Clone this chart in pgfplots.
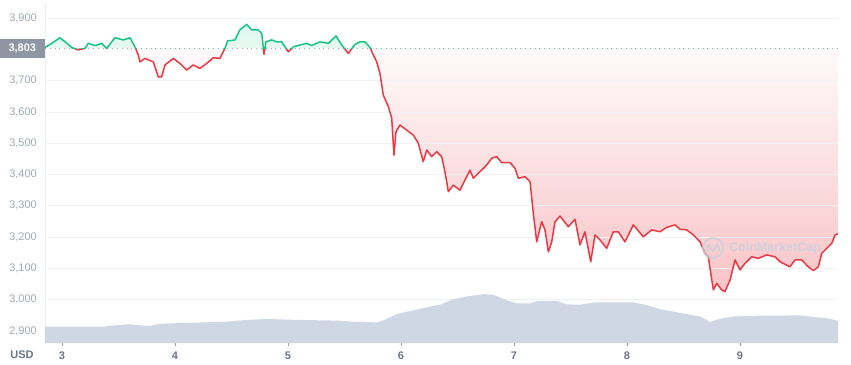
\documentclass[border=0pt]{standalone}
\usepackage{pgfplots}
\pgfplotsset{compat=1.18}
\usepackage{pgfplotstable}
\usepackage{fontspec}
\setmainfont{Liberation Sans}
\definecolor{cmcgreen}{HTML}{16C784}
\definecolor{cmcred}{HTML}{EA3943}
\definecolor{gridc}{HTML}{EFF2F5}
\definecolor{volc}{HTML}{CFD6E4}
\definecolor{ylabc}{HTML}{A1A8B8}
\definecolor{xlabc}{HTML}{6B7588}
\definecolor{boxc}{HTML}{8E96A3}
\definecolor{wmc}{HTML}{C9D1DF}

\pgfplotstableread{
d p
2.850 3806
2.909 3819
2.982 3837
3.027 3824
3.086 3806
3.144 3798
3.204 3803
3.233 3819
3.292 3812
3.351 3819
3.396 3803
3.469 3837
3.542 3830
3.602 3837
3.646 3808
3.675 3782
3.690 3760
3.735 3771
3.808 3760
3.852 3712
3.882 3712
3.912 3750
3.985 3771
4.044 3755
4.104 3734
4.162 3750
4.221 3739
4.281 3755
4.339 3773
4.398 3771
4.442 3803
4.466 3827
4.531 3830
4.575 3862
4.635 3880
4.679 3862
4.737 3862
4.768 3851
4.788 3784
4.805 3824
4.856 3830
4.900 3824
4.944 3824
5.003 3792
5.047 3808
5.106 3814
5.165 3819
5.210 3812
5.283 3824
5.357 3819
5.425 3843
5.475 3814
5.534 3787
5.593 3816
5.637 3824
5.681 3824
5.726 3806
5.755 3782
5.785 3760
5.814 3723
5.843 3654
5.888 3617
5.918 3580
5.938 3462
5.956 3537
5.991 3558
6.050 3542
6.109 3526
6.153 3500
6.197 3441
6.228 3478
6.272 3457
6.316 3473
6.360 3457
6.389 3409
6.419 3345
6.463 3366
6.522 3350
6.566 3382
6.611 3414
6.640 3388
6.699 3409
6.758 3430
6.803 3452
6.847 3457
6.891 3438
6.965 3438
7.009 3420
7.038 3388
7.097 3393
7.142 3377
7.171 3276
7.201 3185
7.245 3249
7.274 3223
7.304 3153
7.334 3185
7.363 3249
7.407 3267
7.481 3233
7.540 3257
7.584 3175
7.628 3217
7.679 3121
7.717 3207
7.761 3191
7.820 3164
7.879 3217
7.923 3217
7.982 3185
8.056 3239
8.144 3201
8.219 3223
8.292 3217
8.351 3231
8.425 3239
8.469 3225
8.528 3223
8.587 3207
8.646 3185
8.690 3148
8.719 3137
8.764 3031
8.794 3052
8.838 3031
8.867 3026
8.912 3063
8.956 3127
9.000 3095
9.044 3116
9.104 3137
9.162 3132
9.236 3143
9.310 3137
9.354 3121
9.442 3105
9.487 3127
9.546 3127
9.604 3105
9.649 3093
9.693 3105
9.723 3148
9.767 3164
9.812 3180
9.841 3207
9.867 3210
}\price

\pgfplotstableread{
d h
2.850 0
2.850 16.3
3.389 16.3
3.398 17
3.584 18.7
3.779 17
3.867 19.3
4.159 20.3
4.460 21.3
4.619 23
4.814 24
5.018 23.3
5.460 22.3
5.575 21.3
5.796 20.6
5.876 24.3
5.965 29
6.053 31.3
6.195 35
6.345 38.3
6.451 43.3
6.584 46.6
6.743 49
6.832 47.6
6.938 42.6
7.027 39.6
7.142 39.6
7.212 42
7.381 42
7.469 38.6
7.584 38.3
7.717 40.6
8.053 40.6
8.159 38.3
8.292 34
8.469 30
8.646 26.6
8.735 21
8.823 24.3
8.956 26.6
9.177 27.3
9.531 27.6
9.796 24.3
9.867 22
9.867 0
}\volume

\pgfplotsset{
  lowpart/.style={scale only axis, width=793pt, hide axis, clip=true,
    xmin=2.85, xmax=9.867, anchor=south west,
    at={(45pt,21pt)}, height=294.62pt, ymin=2861.6, ymax=3803},
  highpart/.style={scale only axis, width=793pt, hide axis, clip=true,
    xmin=2.85, xmax=9.867, anchor=south west,
    at={(45pt,315.62pt)}, height=45.38pt, ymin=3803, ymax=3948},
}

\begin{document}
\begin{tikzpicture}
\useasboundingbox (0,0) rectangle (851pt,364pt);
% area between the price and the 3,803 reference line
\begin{axis}[lowpart]
\addplot[draw=none, top color=white, bottom color=cmcred!30] table[x=d, y=p] {\price}
  -- (axis cs:9.867,3803) -- (axis cs:2.85,3803) -- cycle;
\end{axis}
\begin{axis}[highpart]
\addplot[draw=none, top color=cmcgreen!12, bottom color=white] table[x=d, y=p] {\price}
  -- (axis cs:9.867,3803) -- (axis cs:2.85,3803) -- cycle;
\end{axis}
% main axis: grid, ticks, volume
\begin{axis}[
  scale only axis,
  width=793pt, height=340pt,
  at={(45pt,21pt)}, anchor=south west,
  xmin=2.85, xmax=9.867, ymin=2861.6, ymax=3948,
  clip=false,
  axis x line*=bottom, axis y line*=left,
  x axis line style={draw=none},
  y axis line style={draw=gridc, line width=0.8pt},
  ymajorgrids, grid style={draw=gridc, line width=0.8pt},
  ytick={2900,3000,3100,3200,3300,3400,3500,3600,3700,3900},
  xtick={3,4,5,6,7,8,9},
  ytick style={draw=none},
  xtick style={draw=xlabc!70, line width=0.8pt},
  xtick align=outside, major tick length=3pt,
  /pgf/number format/.cd, 1000 sep={,}, assume math mode=true,
  /pgfplots/.cd,
  yticklabel style={font=\fontsize{11}{13}\selectfont, text=ylabc, anchor=east, inner sep=0pt, xshift=-8pt},
  xticklabel style={font=\fontsize{11}{13}\selectfont\bfseries, text=xlabc, anchor=center, inner sep=0pt, yshift=-10pt},
]
\addplot[fill=volc, draw=none] table[x=d, y expr={2861.6+3.195*\thisrow{h}}] {\volume};
\draw[draw=ylabc, line width=0.7pt, dash pattern=on 0.8pt off 4pt] (axis cs:2.85,3803) -- (axis cs:9.867,3803);
\node[fill=boxc, text=white, anchor=east, minimum width=45pt, minimum height=19pt, inner sep=0pt,
  font=\fontsize{11}{13}\selectfont\bfseries] at (axis cs:2.85,3803) {3,803};
\end{axis}
% price line: red below the reference, green above
\begin{axis}[lowpart]
\addplot[cmcred, line width=1.5pt, line join=round] table[x=d, y=p] {\price};
\end{axis}
\begin{axis}[highpart]
\addplot[cmcgreen, line width=1.5pt, line join=round] table[x=d, y=p] {\price};
\end{axis}
\node[anchor=center, text=xlabc, font=\fontsize{11}{13}\selectfont\bfseries] at (22pt,9pt) {USD};
\draw[wmc, line width=2pt, opacity=0.8] (713pt,116pt) circle (10pt);
\draw[wmc, line width=1.6pt, opacity=0.8, line join=round] (706pt,111pt) -- (709pt,120pt) -- (713pt,112pt) -- (717pt,120pt) -- (720pt,113pt);
\node[anchor=west, text=wmc, opacity=0.85, inner sep=0pt, font=\fontsize{12.5}{15}\selectfont\bfseries] at (729pt,116pt) {CoinMarketCap};
\end{tikzpicture}
\end{document}
